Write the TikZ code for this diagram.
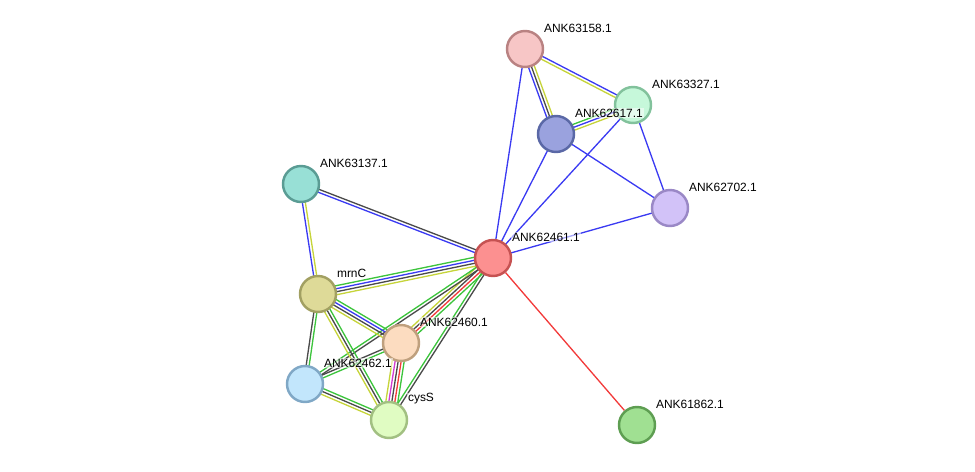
\documentclass[tikz,border=0pt]{standalone}
\usepackage{fontspec}
\setmainfont{Liberation Sans}
\usetikzlibrary{calc,backgrounds}

\definecolor{lkblue}{HTML}{3A3AF2}
\definecolor{lkgray}{HTML}{4A4A4A}
\definecolor{lkgreen}{HTML}{3CC43C}
\definecolor{lkyell}{HTML}{C6D43A}
\definecolor{lkred}{HTML}{F23A3A}
\definecolor{lkmag}{HTML}{D23CD2}

% several coloured lines side by side between two nodes
\newcommand{\linkpair}[3]{%
  \xdef\nlines{0}\foreach \c in {#3}{\xdef\nlines{\the\numexpr\nlines+1\relax}}%
  \foreach \c [count=\i] in {#3}{
    \pgfmathsetmacro{\off}{(\i-(\nlines+1)/2)*1.7}
    \draw[\c,line width=0.75pt] ($(#1)!\off pt!90:(#2)$) -- ($(#2)!\off pt!-90:(#1)$);
  }}

\tikzset{
  prot/.style 2 args={circle,/utils/exec={\definecolor{pfill}{HTML}{#1}\definecolor{pdraw}{HTML}{#2}},
    draw=pdraw,fill=pfill,line width=1.4pt,minimum size=0.72cm,inner sep=0pt},
  lbl/.style={anchor=west,inner sep=0.4pt,fill=white,fill opacity=0.55,text opacity=1,
    font=\fontsize{6.8}{8}\selectfont}
}

\begin{document}
\begin{tikzpicture}[x=0.02cm,y=-0.02cm]
\useasboundingbox (0,0) rectangle (975,471);
\node[prot={F7C6C6}{B98282}] (n158) at (525,49) {};
\node[prot={C6F8DA}{82C29C}] (n327) at (633,105) {};
\node[prot={9AA2DE}{5A68A6}] (n617) at (556,134) {};
\node[prot={D2C2F8}{9A88C6}] (n702) at (670,208) {};
\node[prot={98E0D6}{5A9C94}] (n137) at (301,184) {};
\node[prot={FC9090}{C65252}] (n461) at (493,258) {};
\node[prot={DEDA98}{A2A062}] (mrnC) at (318,294) {};
\node[prot={FCDCC0}{BFA07E}] (n460) at (401,343) {};
\node[prot={C2E6FC}{80A8C6}] (n462) at (305,384) {};
\node[prot={E0FCC2}{A2C082}] (cysS) at (389,420) {};
\node[prot={A0E092}{5E9E52}] (n862) at (637,425) {};

\node[lbl] (l158) at ($(n158)+(18,-21)$) {ANK63158.1};
\node[lbl] (l327) at ($(n327)+(18,-21)$) {ANK63327.1};
\node[lbl] (l617) at ($(n617)+(18,-21)$) {ANK62617.1};
\node[lbl] (l702) at ($(n702)+(18,-21)$) {ANK62702.1};
\node[lbl] (l137) at ($(n137)+(18,-21)$) {ANK63137.1};
\node[lbl] (l461) at ($(n461)+(18,-21)$) {ANK62461.1};
\node[lbl] (lmrnC) at ($(mrnC)+(18,-21)$) {mrnC};
\node[lbl] (l460) at ($(n460)+(18,-21)$) {ANK62460.1};
\node[lbl] (l462) at ($(n462)+(18,-21)$) {ANK62462.1};
\node[lbl] (lcysS) at ($(cysS)+(18,-21)$) {cysS};
\node[lbl] (l862) at ($(n862)+(18,-21)$) {ANK61862.1};

\begin{pgfonlayer}{background}
\linkpair{n158}{n327}{lkyell,lkblue}
\linkpair{n158}{n617}{lkblue,lkgray,lkyell}
\linkpair{n158}{n461}{lkblue}
\linkpair{n327}{n617}{lkgreen,lkblue,lkyell}
\linkpair{n327}{n461}{lkblue}
\linkpair{n327}{n702}{lkblue}
\linkpair{n617}{n461}{lkblue}
\linkpair{n617}{n702}{lkblue}
\linkpair{n702}{n461}{lkblue}
\linkpair{n137}{n461}{lkblue,lkgray}
\linkpair{n137}{mrnC}{lkblue,lkyell}
\draw[lkred,line width=0.75pt] (n461) -- (n862);
\linkpair{n461}{mrnC}{lkgreen,lkblue,lkgray,lkyell}
\linkpair{n461}{n460}{lkyell,lkgray,lkred,lkgreen}
\linkpair{n461}{n462}{lkgreen,lkgray}
\linkpair{n461}{cysS}{lkgreen,lkgray}
\linkpair{mrnC}{n460}{lkyell,lkgray,lkblue,lkgreen}
\linkpair{mrnC}{n462}{lkgray,lkgreen}
\linkpair{mrnC}{cysS}{lkyell,lkgray,lkgreen}
\linkpair{n460}{n462}{lkgray,lkgreen}
\linkpair{n460}{cysS}{lkyell,lkmag,lkgray,lkred,lkgreen}
\linkpair{n462}{cysS}{lkyell,lkgray,lkgreen}
\end{pgfonlayer}
\end{tikzpicture}
\end{document}
